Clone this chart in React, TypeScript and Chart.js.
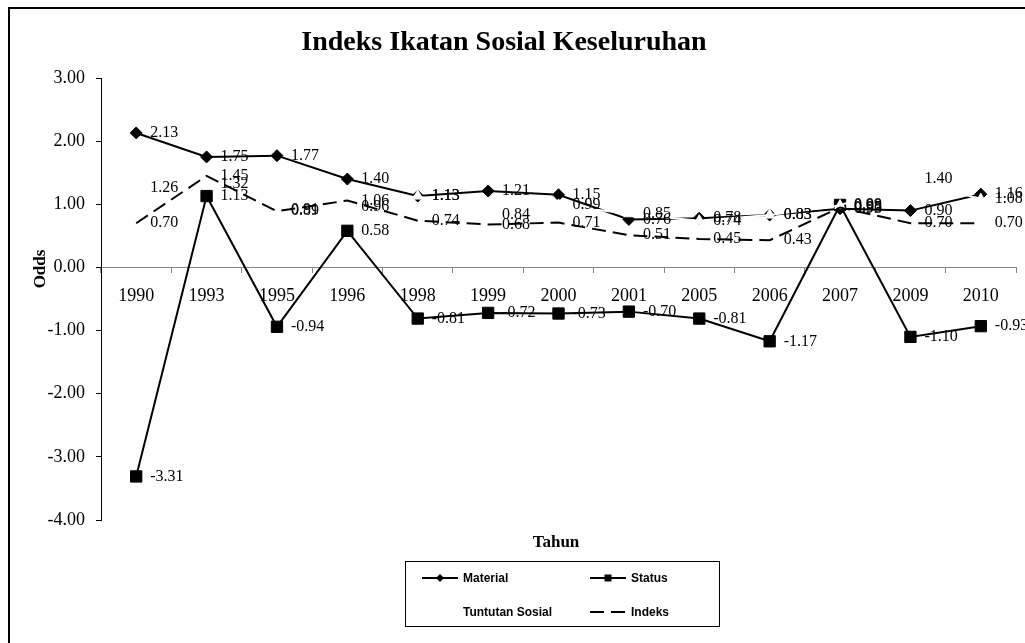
import React, { useEffect, useRef } from 'react';
import { Chart, registerables } from 'chart.js';

Chart.register(...registerables);

const years = ['1990', '1993', '1995', '1996', '1998', '1999', '2000', '2001', '2005', '2006', '2007', '2009', '2010'];
const material = [2.13, 1.75, 1.77, 1.40, 1.13, 1.21, 1.15, 0.76, 0.78, 0.83, 0.93, 0.90, 1.16];
const status = [-3.31, 1.13, -0.94, 0.58, -0.81, -0.72, -0.73, -0.70, -0.81, -1.17, 0.99, -1.10, -0.93];
const tuntutan = [1.26, 1.32, 0.91, 0.96, 1.13, 0.84, 0.99, 0.85, 0.74, 0.83, 0.98, 1.40, 1.08];
const indeks = [0.70, 1.45, 0.89, 1.06, 0.74, 0.68, 0.71, 0.51, 0.45, 0.43, 0.95, 0.70, 0.70];

const yMin = -4;
const yMax = 3;
const yStep = 1;

const titleText = 'Indeks Ikatan Sosial Keseluruhan';
const yTitle = 'Odds';
const xTitle = 'Tahun';
const legendNames = ['Material', 'Status', 'Tuntutan Sosial', 'Indeks'];

const SERIF = '"Liberation Serif", "Times New Roman", serif';
const SANS = '"Liberation Sans", Arial, sans-serif';

const decorPlugin = {
  id: 'decor',
  afterDatasetsDraw(chart: any) {
    const ctx = chart.ctx;
    ctx.save();
    ctx.font = `16px ${SERIF}`;
    ctx.fillStyle = '#000';
    ctx.textAlign = 'left';
    ctx.textBaseline = 'middle';
    chart.data.datasets.forEach((ds: any, di: number) => {
      const meta = chart.getDatasetMeta(di);
      meta.data.forEach((pt: any, i: number) => {
        ctx.fillText(Number(ds.data[i]).toFixed(2), pt.x + 14, pt.y);
      });
    });
    ctx.restore();
  },
  afterDraw(chart: any) {
    const ctx = chart.ctx;
    ctx.save();
    // outer border
    ctx.strokeStyle = '#000';
    ctx.lineWidth = 2;
    ctx.strokeRect(9, 8, 1100, 1000);

    // title
    ctx.fillStyle = '#000';
    ctx.textAlign = 'center';
    ctx.textBaseline = 'middle';
    ctx.font = `bold 28px ${SERIF}`;
    ctx.fillText(titleText, 504, 43);

    // y title
    ctx.save();
    ctx.translate(41, 269);
    ctx.rotate(-Math.PI / 2);
    ctx.font = `bold 17px ${SERIF}`;
    ctx.fillText(yTitle, 0, 0);
    ctx.restore();

    // x title
    ctx.font = `bold 17px ${SERIF}`;
    ctx.fillText(xTitle, 556, 543);

    // legend
    ctx.lineWidth = 1;
    ctx.strokeStyle = '#000';
    ctx.strokeRect(405.5, 561.5, 314, 65);
    ctx.font = `bold 12px ${SANS}`;
    ctx.textAlign = 'left';
    const rows = [578, 612];
    const cols = [[422, 458, 463], [590, 626, 631]];
    const items = [
      { name: legendNames[0], col: 0, row: 0, color: '#000', dash: [] as number[], marker: 'diamond' },
      { name: legendNames[1], col: 1, row: 0, color: '#000', dash: [] as number[], marker: 'square' },
      { name: legendNames[2], col: 0, row: 1, color: '#fff', dash: [] as number[], marker: 'triangle' },
      { name: legendNames[3], col: 1, row: 1, color: '#000', dash: [14, 7], marker: 'none' },
    ];
    items.forEach((it) => {
      const [x1, x2, tx] = cols[it.col];
      const y = rows[it.row];
      ctx.save();
      ctx.strokeStyle = it.color;
      ctx.fillStyle = it.color;
      ctx.lineWidth = 2;
      ctx.setLineDash(it.dash);
      ctx.beginPath();
      ctx.moveTo(x1, y);
      ctx.lineTo(x2, y);
      ctx.stroke();
      ctx.setLineDash([]);
      const cx = (x1 + x2) / 2;
      if (it.marker === 'diamond') {
        ctx.beginPath();
        ctx.moveTo(cx, y - 4);
        ctx.lineTo(cx + 4, y);
        ctx.lineTo(cx, y + 4);
        ctx.lineTo(cx - 4, y);
        ctx.closePath();
        ctx.fill();
      } else if (it.marker === 'square') {
        ctx.fillRect(cx - 3.5, y - 3.5, 7, 7);
      }
      ctx.restore();
      ctx.fillStyle = '#000';
      ctx.textBaseline = 'middle';
      ctx.fillText(it.name, tx, y + 1);
    });
    ctx.restore();
  },
};

export default function App() {
  const ref = useRef<HTMLCanvasElement>(null);
  useEffect(() => {
    if (!ref.current) return;
    const chart = new Chart(ref.current, {
      type: 'line',
      data: {
        labels: years,
        datasets: [
          {
            label: legendNames[0],
            data: material,
            borderColor: '#000',
            backgroundColor: '#000',
            borderWidth: 2,
            pointStyle: 'rectRot',
            pointRadius: 6,
            pointBackgroundColor: '#000',
            pointBorderColor: '#000',
            pointBorderWidth: 1,
            tension: 0,
            order: 4,
          },
          {
            label: legendNames[1],
            data: status,
            borderColor: '#000',
            backgroundColor: '#000',
            borderWidth: 2,
            pointStyle: 'rect',
            pointRadius: 8,
            pointBackgroundColor: '#000',
            pointBorderColor: '#000',
            pointBorderWidth: 1,
            tension: 0,
            order: 3,
          },
          {
            label: legendNames[2],
            data: tuntutan,
            borderColor: '#fff',
            backgroundColor: '#fff',
            borderWidth: 2,
            pointStyle: 'triangle',
            pointRadius: 6,
            pointBackgroundColor: '#fff',
            pointBorderColor: '#fff',
            pointBorderWidth: 1,
            tension: 0,
            order: 2,
          },
          {
            label: legendNames[3],
            data: indeks,
            borderColor: '#000',
            backgroundColor: '#000',
            borderWidth: 2,
            borderDash: [14, 7],
            pointRadius: 0,
            tension: 0,
            order: 1,
          },
        ],
      },
      options: {
        responsive: false,
        animation: false,
        layout: { padding: { left: 0, top: 78, right: 9, bottom: 123 } },
        plugins: {
          legend: { display: false },
          title: { display: false },
          tooltip: { enabled: false },
        },
        scales: {
          x: {
            type: 'category',
            position: { y: 0 } as any,
            offset: true,
            grid: {
              offset: true,
              drawOnChartArea: false,
              tickLength: 5,
              color: '#868686',
            },
            border: { display: true, color: '#868686', width: 1 },
            ticks: {
              color: '#000',
              font: { family: SERIF, size: 18 },
              padding: 13,
              maxRotation: 0,
              autoSkip: false,
            },
          },
          y: {
            type: 'linear',
            position: 'left',
            min: yMin,
            max: yMax,
            ticks: {
              stepSize: yStep,
              color: '#000',
              font: { family: SERIF, size: 18 },
              padding: 11,
              callback: (v: any) => Number(v).toFixed(2),
            },
            grid: {
              drawOnChartArea: false,
              tickLength: 5,
              color: '#000',
            },
            border: { display: true, color: '#000', width: 1 },
            afterFit: (scale: any) => {
              scale.width = 101;
            },
          },
        },
      },
      plugins: [decorPlugin],
    });
    return () => chart.destroy();
  }, []);
  return (
    <div style={{ position: 'absolute', left: 0, top: 0, width: 1025, height: 643 }}>
      <canvas ref={ref} width={1025} height={643} style={{ display: 'block', width: 1025, height: 643 }} />
    </div>
  );
}
